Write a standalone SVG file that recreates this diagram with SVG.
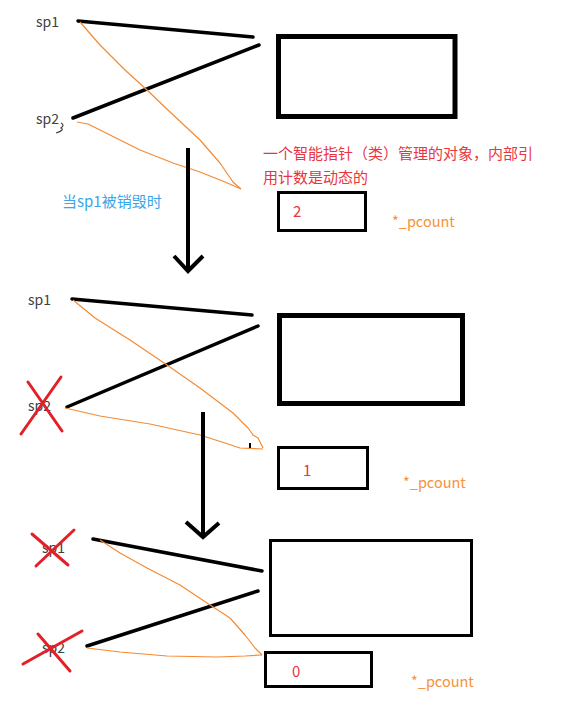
<svg xmlns="http://www.w3.org/2000/svg" width="561" height="701" viewBox="0 0 561 701">
<style>
.lbl{font-family:"Noto Sans CJK SC","Noto Sans",sans-serif;font-size:14px;fill:#404040}
.red{font-family:"Noto Sans CJK SC","Noto Sans",sans-serif;font-size:15px;fill:#e8353f}
.blue{font-family:"Noto Sans CJK SC","Noto Sans",sans-serif;font-size:15px;fill:#3aa6e8}
.pc{font-family:"Noto Sans CJK SC","Noto Sans",sans-serif;font-size:14.5px;fill:#f7923a}
.num{font-family:"Noto Sans CJK SC","Noto Sans",sans-serif;font-size:15px;fill:#e8353f}
.big{fill:none;stroke:#000;stroke-width:5}
.small{fill:none;stroke:#000;stroke-width:3}
.ptr{stroke:#000;stroke-width:3.5;stroke-linecap:round;fill:none}
.ref{stroke:#f58a32;stroke-width:1.2;fill:none;stroke-linejoin:round}
.arr{stroke:#000;stroke-width:4;fill:none}
.x{stroke:#e32028;stroke-width:3;stroke-linecap:round}
</style>
<rect width="561" height="701" fill="#fff"/>

<g id="panel1">
  <g id="sp1-a"><text class="lbl" x="36" y="27">sp1</text></g>
  <g id="sp2-a"><text class="lbl" x="36" y="124">sp2</text><path d="M61,123 q4,2 0,5 q4,2 -5,5" stroke="#404040" stroke-width="1.2" fill="none"/></g>
  <g id="obj-a"><rect class="big" x="278.5" y="36.5" width="176.5" height="80"/></g>
  <g id="cnt-a"><rect class="small" x="278.5" y="192.5" width="87" height="38"/><text class="num" x="293" y="217">2</text></g>
  <g id="note"><text class="red" x="263" y="159">一个智能指针（类）管理的对象，内部引</text><text class="red" x="263" y="183">用计数是动态的</text></g>
  <g id="pcount-a"><text class="pc" x="392" y="227">*_pcount</text></g>
  <g id="when"><text class="blue" x="62" y="207">当sp1被销毁时</text></g>
</g>

<g id="panel2">
  <g id="sp1-b"><text class="lbl" x="28" y="305">sp1</text></g>
  <g id="sp2-b"><text class="lbl" x="28" y="411">sp2</text>
    <line class="x" x1="21" y1="434" x2="61" y2="377"/><line class="x" x1="28" y1="382" x2="62" y2="431"/></g>
  <g id="obj-b"><rect class="big" x="279.5" y="315.5" width="183" height="88"/></g>
  <g id="cnt-b"><rect class="small" x="278.5" y="447.5" width="89" height="41"/><text class="num" x="303" y="476">1</text></g>
  <g id="pcount-b"><text class="pc" x="403" y="488">*_pcount</text></g>
</g>

<g id="panel3">
  <g id="sp1-c"><text class="lbl" x="42" y="553">sp1</text>
    <line class="x" x1="32" y1="534" x2="68" y2="565"/><line class="x" x1="36" y1="566" x2="74" y2="530"/></g>
  <g id="sp2-c"><text class="lbl" x="42" y="653">sp2</text>
    <line class="x" x1="23" y1="664" x2="82" y2="631"/><line class="x" x1="38" y1="634" x2="70" y2="671"/></g>
  <g id="obj-c"><rect class="small" x="270.5" y="540.5" width="201" height="95"/></g>
  <g id="cnt-c"><rect class="small" x="265.5" y="652.5" width="106" height="34"/><text class="num" x="292" y="677">0</text></g>
  <g id="pcount-c"><text class="pc" x="411" y="687">*_pcount</text></g>
</g>

<g id="connectors">
  <line class="ptr" x1="78" y1="21" x2="253" y2="37"/>
  <line class="ptr" x1="73" y1="118" x2="259" y2="45"/>
  <path class="ref" d="M80,22 L100,45 L125,70 L147,90 L170,112 L200,140 L220,163 L233,182 L241,189"/>
  <path class="ref" d="M77,122 L88,124 L110,135 L140,150 L173,163 L200,172 L225,182 L241,189"/>
  <path class="arr" d="M188,148 V271 M174,256 L188,271 L203,256"/>

  <line class="ptr" x1="72" y1="299" x2="252" y2="315"/>
  <line class="ptr" x1="67" y1="407" x2="258" y2="326"/>
  <path class="ref" d="M73,300 L95,318 L130,340 L167,365 L200,388 L233,413 L248,428 L253,435 L258,438 L263,448"/>
  <path class="ref" d="M65,408 L100,416 L150,424 L200,435 L225,443 L240,448 L263,449"/>
  <line x1="250" y1="443" x2="250" y2="448" stroke="#000" stroke-width="2"/>
  <path class="arr" d="M203,412 V537 M186,522 L203,537 L219,523"/>

  <line class="ptr" x1="93" y1="539" x2="262" y2="571"/>
  <line class="ptr" x1="87" y1="646" x2="258" y2="591"/>
  <path class="ref" d="M100,540 L120,553 L147,568 L180,585 L207,603 L230,618 L245,635 L255,648 L262,655"/>
  <path class="ref" d="M87,648 L120,652 L167,656 L217,657 L245,656 L262,655"/>
</g>
</svg>
